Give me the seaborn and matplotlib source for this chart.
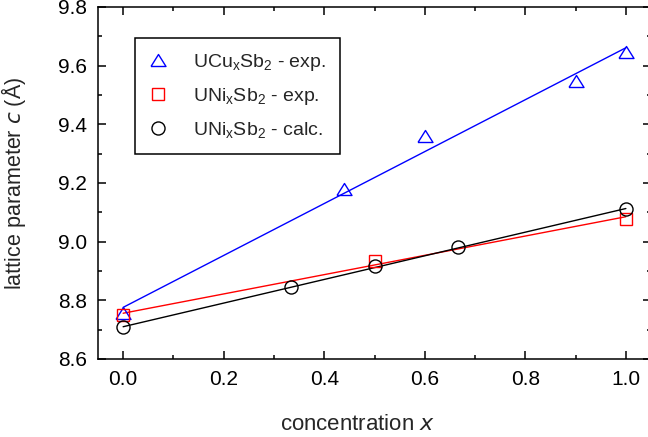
import matplotlib
matplotlib.use('Agg')
import matplotlib.pyplot as plt
import seaborn as sns
import pandas as pd
from matplotlib.lines import Line2D
from matplotlib.ticker import MultipleLocator

# measured lattice parameter c (Angstrom) vs concentration x
x_cu = [0.0, 0.44, 0.6, 0.9, 1.0]
c_cu = [8.756, 9.181, 9.361, 9.548, 9.648]

x_ni_exp = [0.0, 0.5, 1.0]
c_ni_exp = [8.750, 8.935, 9.078]

x_ni_calc = [0.0, 0.333, 0.5, 0.667, 1.0]
c_ni_calc = [8.708, 8.844, 8.918, 8.982, 9.111]

# straight-line fits, endpoints
fit_x = [0.0, 1.0]
fit_cu = [8.776, 9.661]
fit_ni_exp = [8.756, 9.085]
fit_ni_calc = [8.710, 9.113]

labels = [r'UCu$_\mathregular{x}$Sb$_\mathregular{2}$ - exp.',
          r'UNi$_\mathregular{x}$Sb$_\mathregular{2}$ - exp.',
          r'UNi$_\mathregular{x}$Sb$_\mathregular{2}$ - calc.']

sns.set_style('ticks')
plt.rcParams['font.family'] = ['Liberation Sans', 'DejaVu Sans']
plt.rcParams['mathtext.default'] = 'regular'

fig = plt.figure(figsize=(6.48, 4.37), dpi=100)
# axes runs a little past the right edge, like the original
ax = fig.add_axes([98 / 648, 78 / 437, 553 / 648, 352 / 437])

# open triangle, a bit wider than tall
tri = [(-1, -0.8), (1, -0.8), (0, 0.8), (-1, -0.8)]

# fit lines
sns.lineplot(x=fit_x, y=fit_cu, color='#0000ff', lw=1.0, ax=ax)
sns.lineplot(x=fit_x, y=fit_ni_exp, color='#ff0000', lw=1.0, ax=ax)
sns.lineplot(x=fit_x, y=fit_ni_calc, color='black', lw=1.0, ax=ax)

# data points, open markers
cu = pd.DataFrame({'x': x_cu, 'c': c_cu})
ni_exp = pd.DataFrame({'x': x_ni_exp, 'c': c_ni_exp})
ni_calc = pd.DataFrame({'x': x_ni_calc, 'c': c_ni_calc})

sns.lineplot(data=cu, x='x', y='c', linestyle='', marker=tri, ms=10.8,
             markerfacecolor='none', markeredgecolor='#0000ff', mew=1.0, ax=ax)
sns.lineplot(data=ni_exp, x='x', y='c', linestyle='', marker='s', ms=8.6,
             markerfacecolor='none', markeredgecolor='#ff0000', mew=1.0, ax=ax)
sns.lineplot(data=ni_calc, x='x', y='c', linestyle='', marker='o', ms=9.4,
             markerfacecolor='none', markeredgecolor='black', mew=1.0, ax=ax)

ax.set_xlim(-0.05, 1.05)
ax.set_ylim(8.6, 9.8)
ax.xaxis.set_major_locator(MultipleLocator(0.2))
ax.xaxis.set_minor_locator(MultipleLocator(0.1))
ax.yaxis.set_major_locator(MultipleLocator(0.2))
ax.yaxis.set_minor_locator(MultipleLocator(0.1))
ax.set_xticklabels([f'{v:.1f}' for v in ax.get_xticks()])
ax.set_yticklabels([f'{v:.1f}' for v in ax.get_yticks()])

ax.tick_params(which='both', direction='in', top=True, right=True,
               width=1.1, labelsize=15, pad=8, colors='black')
ax.tick_params(which='major', length=6)
ax.tick_params(which='minor', length=3)
for s in ax.spines.values():
    s.set_visible(True)
    s.set_linewidth(1.1)
    s.set_color('black')

ax.set_xlabel('concentration $\\mathit{x}$', fontsize=16)
ax.set_ylabel('lattice parameter $\\mathit{c}$ (Å)', fontsize=15.5)
ax.xaxis.set_label_coords(0.47, -0.155)
ax.yaxis.set_label_coords(-0.126, 0.5)

handles = [
    Line2D([], [], linestyle='', marker=tri, ms=10.8, markerfacecolor='none',
           markeredgecolor='#0000ff', mew=1.0),
    Line2D([], [], linestyle='', marker='s', ms=8.6, markerfacecolor='none',
           markeredgecolor='#ff0000', mew=1.0),
    Line2D([], [], linestyle='', marker='o', ms=9.4, markerfacecolor='none',
           markeredgecolor='black', mew=1.0),
]
leg = ax.legend(handles, labels, loc='upper left',
                bbox_to_anchor=(135 / 648, 1 - 38 / 437),
                bbox_transform=fig.transFigure, borderaxespad=0,
                fontsize=14, frameon=True, fancybox=False, framealpha=1,
                edgecolor='black', borderpad=0.7, handlelength=0.97,
                handletextpad=1.32, labelspacing=0.68)
leg.get_frame().set_linewidth(1.1)

plt.savefig('out.png', dpi=100)
